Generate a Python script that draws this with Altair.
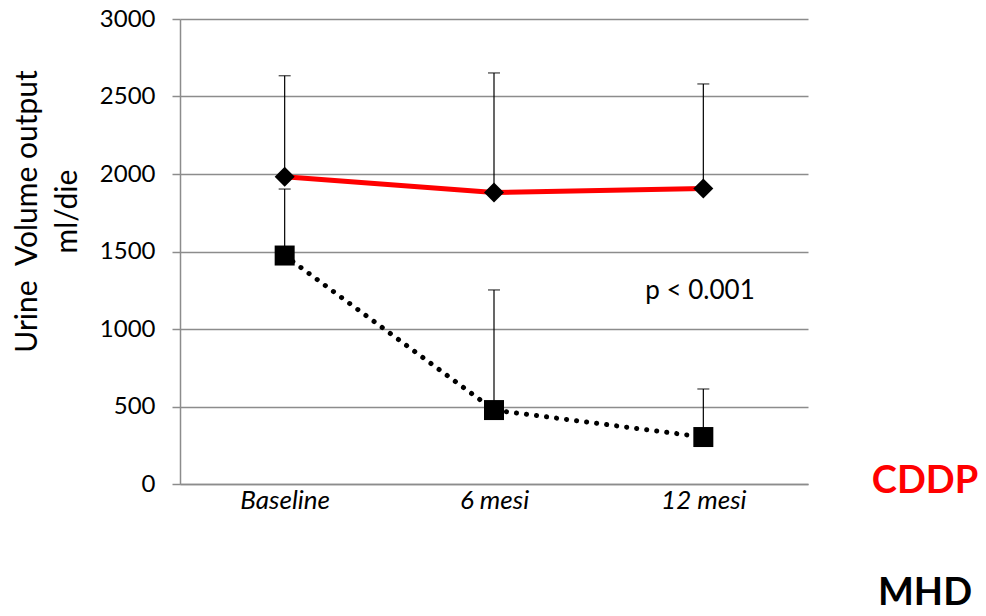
import altair as alt
import pandas as pd

# Time points and group summaries (mean and upper error bound, ml/die)
periods = ["Baseline", "6 mesi", "12 mesi"]
cddp_mean = [1983, 1880, 1907]
cddp_upper = [2634, 2652, 2581]
mhd_mean = [1474, 477, 303]
mhd_upper = [1903, 1252, 613]

y_ticks = [0, 500, 1000, 1500, 2000, 2500, 3000]

FONT = "Lato"

cddp = pd.DataFrame({"period": periods, "mean": cddp_mean, "upper": cddp_upper, "group": "CDDP"})
mhd = pd.DataFrame({"period": periods, "mean": mhd_mean, "upper": mhd_upper, "group": "MHD"})
both = pd.concat([cddp, mhd], ignore_index=True)

x_enc = alt.X(
    "period:N",
    sort=periods,
    scale=alt.Scale(type="point", padding=0.5),
    axis=alt.Axis(
        title=None,
        labelAngle=0,
        labelFont=FONT,
        labelFontSize=26,
        labelFontStyle="italic",
        labelColor="black",
        labelPadding=3,
        ticks=False,
        domainColor="#8c8c8c",
        domainWidth=1.5,
        grid=False,
    ),
)

y_scale = alt.Scale(domain=[0, 3000], nice=False)
y_axis = alt.Axis(
    values=y_ticks,
    format="d",
    title=["Urine\u00a0 Volume output", "ml/die"],
    titleFont=FONT,
    titleFontSize=30,
    titleFontWeight="normal",
    titleColor="black",
    titleAngle=-90,
    titleAlign="center",
    titleBaseline="middle",
    titleLineHeight=40,
    titleX=-153,
    titleY=192,
    labelFont=FONT,
    labelFontSize=24,
    labelColor="black",
    labelPadding=17,
    tickSize=8,
    tickColor="#8c8c8c",
    tickWidth=1.5,
    domainColor="#8c8c8c",
    domainWidth=1.5,
    grid=True,
    gridColor="#8c8c8c",
    gridWidth=1.5,
)

base = alt.Chart(both)

# Upper-only error bars
err_rule = base.mark_rule(color="black", strokeWidth=1.2).encode(
    x=x_enc,
    y=alt.Y("mean:Q", scale=y_scale, axis=y_axis),
    y2="upper:Q",
)
err_cap = base.mark_tick(color="black", thickness=1.3, size=12).encode(
    x=x_enc,
    y=alt.Y("upper:Q", scale=y_scale),
)

cddp_line = alt.Chart(cddp).mark_line(color="#ff0000", strokeWidth=5).encode(
    x=x_enc, y=alt.Y("mean:Q", scale=y_scale)
)
mhd_line = alt.Chart(mhd).mark_line(
    color="black", strokeWidth=5, strokeDash=[0.1, 10], strokeCap="round"
).encode(x=x_enc, y=alt.Y("mean:Q", scale=y_scale))

cddp_pts = alt.Chart(cddp).mark_point(
    shape="diamond", size=400, filled=True, color="black", opacity=1
).encode(x=x_enc, y=alt.Y("mean:Q", scale=y_scale))
mhd_pts = alt.Chart(mhd).mark_point(
    shape="square", size=400, filled=True, color="black", opacity=1
).encode(x=x_enc, y=alt.Y("mean:Q", scale=y_scale))

# Significance note and group labels
p_text = alt.Chart(pd.DataFrame({"t": ["p < 0.001"], "v": [1245]})).mark_text(
    font=FONT, fontSize=26, color="black", align="center", baseline="middle"
).encode(x=alt.value(520), y=alt.Y("v:Q", scale=y_scale), text="t:N")

cddp_label = alt.Chart(pd.DataFrame({"t": ["CDDP"]})).mark_text(
    font=FONT, fontSize=38, fontWeight="bold", color="#ff0000", align="center", baseline="middle"
).encode(x=alt.value(745), y=alt.value(463), text="t:N")
mhd_label = alt.Chart(pd.DataFrame({"t": ["MHD"]})).mark_text(
    font=FONT, fontSize=38, fontWeight="bold", color="black", align="center", baseline="middle"
).encode(x=alt.value(745), y=alt.value(575), text="t:N")

chart = (
    alt.layer(err_rule, err_cap, cddp_line, mhd_line, cddp_pts, mhd_pts, p_text, cddp_label, mhd_label)
    .properties(
        width=628,
        height=465,
        autosize=alt.AutoSizeParams(type="none"),
        padding={"left": 180, "top": 19, "right": 178, "bottom": 132},
        background="white",
    )
    .configure_view(stroke=None)
)

chart.save("out.html", embed_options={"renderer": "svg", "actions": False})
